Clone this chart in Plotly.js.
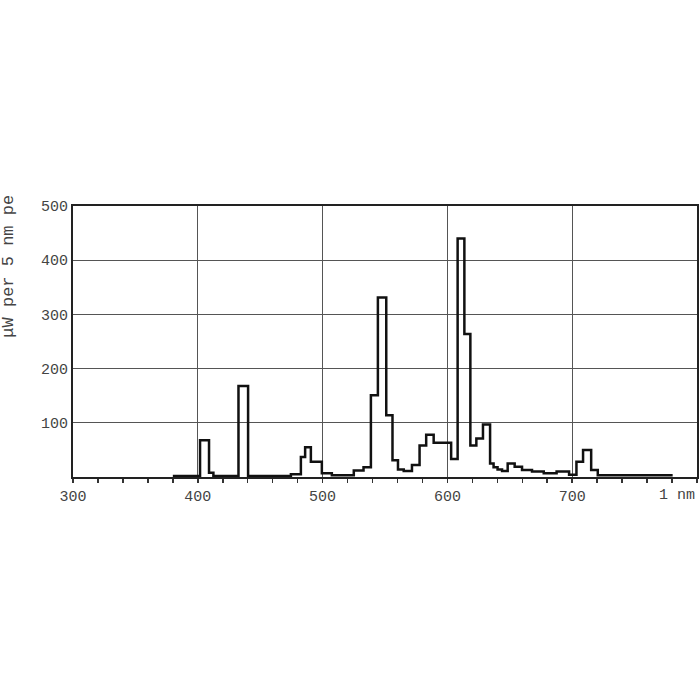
<!DOCTYPE html>
<html><head><meta charset="utf-8">
<script src="https://cdn.plot.ly/plotly-3.0.1.min.js"></script>
<style>html,body{margin:0;padding:0;background:#fff}</style>
</head><body><div id="chart" style="width:700px;height:700px"></div>
<script>
// Step edges (nm) and spectral power (µW per 5 nm)
var wavelength = [380, 401.8, 409, 412.5, 432.6, 440.3, 474.6, 482.6, 486, 490.6, 499.4, 507.4,
  525, 532.8, 538.7, 544.3, 551, 556, 560.4, 565, 571.6, 577.7, 583, 589, 603, 608.2, 613.6,
  618.4, 623.2, 628.5, 634.2, 637, 640.2, 643.8, 648.3, 653.9, 659.8, 667.8, 677.2, 687.5,
  697.5, 703.4, 708.7, 715.2, 720.5, 780.5];
var power = [2, 68, 8, 2, 168, 2, 5, 37, 55, 28, 7, 3,
  12, 18, 151, 331, 114, 31, 14, 11, 22, 58, 78, 63, 33, 440, 264,
  58, 71, 97, 25, 18, 14, 11, 25, 19, 13, 10, 7, 10,
  4, 28, 50, 13, 3, 3];
var xTickVals = [300, 400, 500, 600, 700];
var xTickText = ['300', '400', '500', '600', '700'];
var yTickVals = [100, 200, 300, 400, 500];
var yTickText = ['100', '200', '300', '400', '500'];
var yTitle = 'μW per 5 nm pe';
var xUnitLabel = '1 nm';

var font = {family: '"Liberation Mono", "Courier New", monospace', size: 15, color: '#444'};
var titleFont = {family: '"Liberation Mono", "Courier New", monospace', size: 17, color: '#444'};

Plotly.newPlot('chart', [{
  x: wavelength, y: power, type: 'scatter', mode: 'lines',
  line: {shape: 'hv', color: '#111', width: 2.5},
  hoverinfo: 'none'
}], {
  width: 700, height: 700,
  margin: {l: 73, r: 3, t: 206, b: 223},
  paper_bgcolor: '#fff', plot_bgcolor: '#fff',
  showlegend: false,
  font: font,
  xaxis: {
    range: [300, 800], tickvals: xTickVals, ticktext: xTickText,
    ticks: 'outside', ticklen: 4, tickcolor: '#333', tickwidth: 1.5,
    minor: {dtick: 20, tick0: 300, ticks: 'outside', ticklen: 4, tickcolor: '#333', tickwidth: 1.5, showgrid: false},
    showgrid: true, gridcolor: '#555', gridwidth: 1,
    showline: true, linecolor: '#222', linewidth: 2, mirror: true,
    zeroline: false, tickfont: font
  },
  yaxis: {
    range: [0, 500], tickvals: yTickVals, ticktext: yTickText,
    ticks: '', showgrid: true, gridcolor: '#555', gridwidth: 1,
    showline: true, linecolor: '#222', linewidth: 2, mirror: true,
    zeroline: false, tickfont: font
  },
  annotations: [
    {text: yTitle, xref: 'paper', yref: 'paper', x: -0.103, y: 1.05, xanchor: 'center', yanchor: 'top',
     textangle: -90, showarrow: false, font: titleFont},
    {text: xUnitLabel, xref: 'x', yref: 'paper', x: 800, y: 0, xanchor: 'right', yanchor: 'top',
     yshift: -8, showarrow: false, font: font}
  ]
}, {staticPlot: true});
</script></body></html>
